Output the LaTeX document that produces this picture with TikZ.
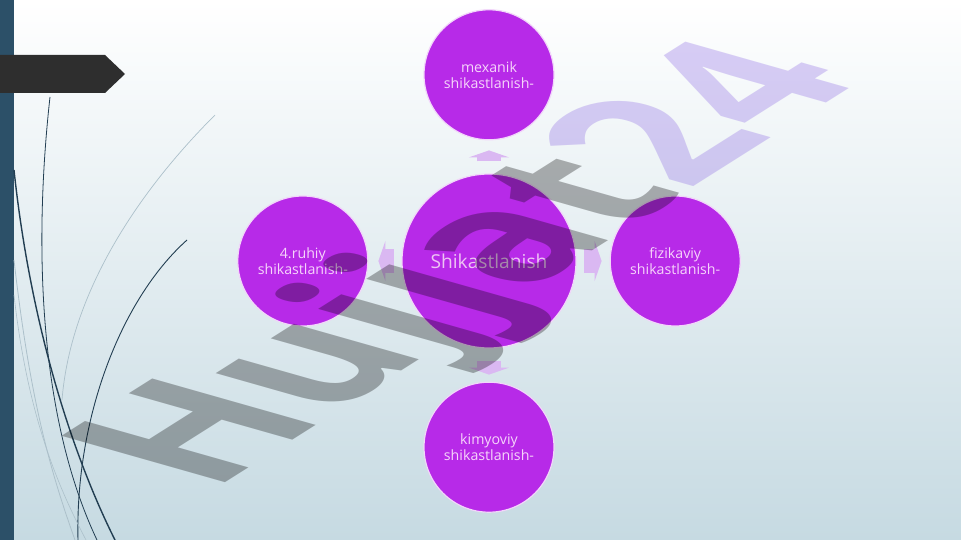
\documentclass[tikz,border=0pt]{standalone}
\usepackage{fontspec}
\setmainfont{Open Sans}
\newfontfamily\wmfont{Open Sans}
\usetikzlibrary{positioning,arrows.meta}
\definecolor{purp}{RGB}{183,42,232}
\definecolor{ring}{RGB}{242,214,250}
\definecolor{pinktext}{RGB}{246,212,250}
\definecolor{hubtext}{RGB}{238,196,244}
\definecolor{lilac}{RGB}{218,184,242}
\definecolor{bgbot}{RGB}{198,218,226}
\definecolor{barblue}{RGB}{44,80,104}
\definecolor{banner}{RGB}{46,46,46}
\definecolor{wispdark}{RGB}{34,62,82}
\definecolor{wisplight}{RGB}{172,192,202}
\definecolor{wmlav}{RGB}{133,95,226}
\newlength\wmlen

\begin{document}
\settowidth\wmlen{\wmfont\bfseries\fontsize{10}{12}\selectfont Hujjat24}
\begin{tikzpicture}[x=1pt,y=-1pt,
  bubble/.style={circle,fill=purp,draw=ring,line width=1.2pt,text=pinktext,
    align=center,minimum size=130pt,inner sep=0pt,font=\fontsize{14.2}{16.2}\selectfont},
  hub/.style={bubble,minimum size=174pt,text=hubtext,font=\fontsize{19.2}{22}\selectfont},
  spoke/.style={draw=lilac,line width=24pt,-{Triangle[width=40pt,length=7pt]}},
  node distance=33pt]
  \useasboundingbox (0,0) rectangle (961,540);

  %slide background
  \shade[top color=white,bottom color=bgbot] (0,0) rectangle (961,540);
  \fill[barblue] (0,0) rectangle (14,540);

  %wisps on the left
  \draw[wispdark,line width=0.8pt] (50,97) .. controls (33,250) and (40,420) .. (97,540);
  \draw[wispdark,line width=1.4pt] (14,170) .. controls (30,320) and (70,450) .. (115,540);
  \draw[wispdark,line width=0.9pt] (187,240) .. controls (120,300) and (75,420) .. (78,540);
  \draw[wisplight,line width=0.7pt] (215,115) .. controls (130,200) and (70,300) .. (62,400);
  \draw[wisplight,line width=0.8pt] (14,260) .. controls (30,400) and (50,470) .. (75,540);
  \draw[wisplight,line width=0.6pt] (14,295) .. controls (28,420) and (60,490) .. (86,540);

  %title banner
  \fill[banner] (0,55) -- (105,55) -- (125,74) -- (105,93) -- (0,93) -- cycle;

  %hub and spokes
  \node[hub] (hub) at (489,261) {Shikastlanish};
  \node[bubble,above=of hub] (mexanik) {mexanik\\shikastlanish-};
  \node[bubble,right=of hub] (fizik) {fizikaviy\\shikastlanish-};
  \node[bubble,below=of hub] (kimyo) {kimyoviy\\shikastlanish-};
  \node[bubble,left=of hub] (ruhiy) {4.ruhiy\\shikastlanish-};

  \draw[spoke,shorten <=12pt,shorten >=10pt] (hub) -- (mexanik);
  \draw[spoke,shorten <=7pt,shorten >=8pt] (hub) -- (fizik);
  \draw[spoke,shorten <=12pt,shorten >=7pt] (hub) -- (kimyo);
  \draw[spoke,shorten <=7pt,shorten >=10pt] (hub) -- (ruhiy);

  %watermark
  \pgfmathsetmacro\wmsx{753/(\wmlen-1.1pt)}
  \pgfmathsetmacro\wmax{0.845*\wmsx}
  \pgfmathsetmacro\wmay{0.534*\wmsx}
  \node[transform shape,cm={\wmax,\wmay,-22.9,6.5,(226.7,481.7)},xshift=-1pt,
    anchor=base west,inner sep=0pt,outer sep=0pt,text opacity=0.3,
    font=\wmfont\bfseries\fontsize{10}{12}\selectfont] (wm) at (0,0)
    {\color{black}Hujjat\color{wmlav}24};
\end{tikzpicture}
\end{document}
